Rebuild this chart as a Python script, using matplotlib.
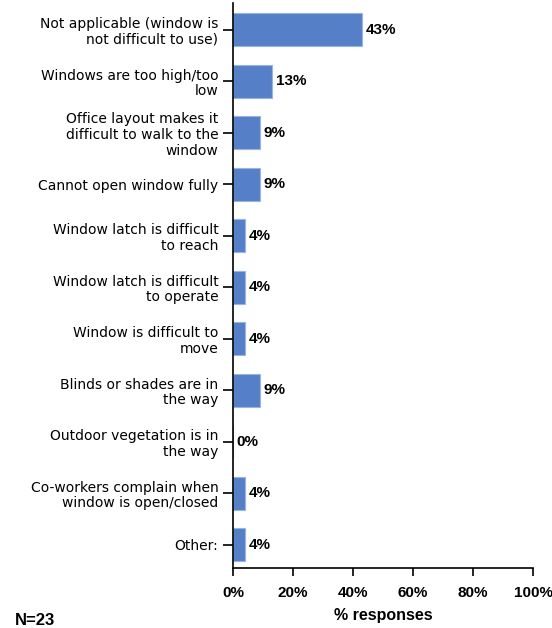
import matplotlib.pyplot as plt

plt.rcParams['font.family'] = ['Liberation Sans', 'DejaVu Sans']

categories = [
    "Not applicable (window is\nnot difficult to use)",
    "Windows are too high/too\nlow",
    "Office layout makes it\ndifficult to walk to the\nwindow",
    "Cannot open window fully",
    "Window latch is difficult\nto reach",
    "Window latch is difficult\nto operate",
    "Window is difficult to\nmove",
    "Blinds or shades are in\nthe way",
    "Outdoor vegetation is in\nthe way",
    "Co-workers complain when\nwindow is open/closed",
    "Other:",
]
values = [43, 13, 9, 9, 4, 4, 4, 9, 0, 4, 4]
x_ticks = [0, 20, 40, 60, 80, 100]

fig = plt.figure(figsize=(5.52, 6.28), dpi=100)
ax = fig.add_axes([0.422, 0.0955, 0.544, 0.9])

pos = list(range(len(categories)))
ax.barh(pos, values, height=0.64, color='#5580C8', edgecolor='#9AB3E0', linewidth=0.8)
for p, v in zip(pos, values):
    ax.text(v + 1.2, p, f"{v}%", va='center', ha='left', fontsize=11, fontweight='bold')

ax.set_ylim(10.45, -0.52)
ax.set_xlim(0, 100)
ax.set_yticks(pos)
ax.set_yticklabels(categories, fontsize=10, linespacing=1.15, family='DejaVu Sans')
ax.set_xticks(x_ticks)
ax.set_xticklabels([f"{t}%" for t in x_ticks], fontsize=11, fontweight='bold')
ax.set_xlabel("% responses", fontsize=11.5, fontweight='bold', labelpad=6)

for s in ['top', 'right']:
    ax.spines[s].set_visible(False)
for s in ['left', 'bottom']:
    ax.spines[s].set_linewidth(1.2)
ax.tick_params(axis='y', length=7, width=1.2, pad=3.5)
ax.tick_params(axis='x', length=6, width=1.2, pad=7)

fig.text(0.027, 0.0, "N=23", fontsize=12, fontweight='bold', ha='left', va='bottom')

fig.savefig('out.png', dpi=100)
